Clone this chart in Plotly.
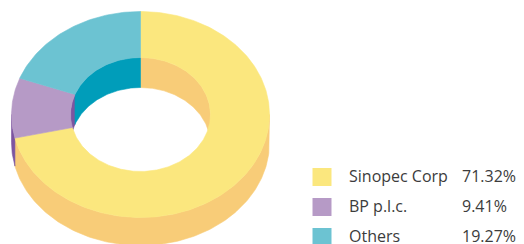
import numpy as np
import plotly.graph_objects as go

# ---- data ----
labels = ["Sinopec Corp", "BP p.l.c.", "Others"]
shares = [71.32, 9.41, 19.27]
pct_text = ["71.32%", "9.41%", "19.27%"]

# ---- styling ----
top_colors = ["#FBE77E", "#B69AC6", "#6CC3D2"]
side_colors = ["#F8CC78", "#7C55A0", "#009DBA"]
W, H = 524, 244
CX, CY = 140.5, 114.5
RX_O, RY_O = 129, 103
RX_I, RY_I = 70, 57
DEPTH = 28


def arc(a, b, rx, ry, dy, n=None):
    if n is None:
        n = max(2, int(abs(b - a) / 1.0) + 2)
    t = np.radians(np.linspace(a, b, n))
    return CX + rx * np.cos(t), CY - ry * np.sin(t) + dy


def intersect(a, b, lo, hi):
    out = []
    for k in (-720, -360, 0, 360, 720):
        s, e = max(a + k, lo), min(b + k, hi)
        if e > s:
            out.append((s, e))
    return out


ranges = []
start = 90.0
for v in shares:
    sweep = v / sum(shares) * 360.0
    ranges.append((start - sweep, start))
    start -= sweep

fig = go.Figure()


def poly(xs, ys, color):
    fig.add_trace(go.Scatter(x=xs, y=ys, mode="lines", fill="toself",
                             fillcolor=color, line=dict(color=color, width=0.6),
                             hoverinfo="skip", showlegend=False))


# outer side walls (front half)
for (a, b), c in zip(ranges, side_colors):
    for s, e in intersect(a, b, -180, 0):
        x1, y1 = arc(s, e, RX_O, RY_O, 0)
        x2, y2 = arc(e, s, RX_O, RY_O, DEPTH)
        poly(np.concatenate([x1, x2, x1[:1]]), np.concatenate([y1, y2, y1[:1]]), c)

# inner walls (back half)
for (a, b), c in zip(ranges, side_colors):
    for s, e in intersect(a, b, 0, 180):
        x1, y1 = arc(s, e, RX_I, RY_I, 0)
        x2, y2 = arc(e, s, RX_I, RY_I, DEPTH + 2)
        poly(np.concatenate([x1, x2, x1[:1]]), np.concatenate([y1, y2, y1[:1]]), c)

# top faces
for (a, b), c in zip(ranges, top_colors):
    x1, y1 = arc(a, b, RX_O, RY_O, 0)
    x2, y2 = arc(b, a, RX_I, RY_I, 0)
    poly(np.concatenate([x1, x2, x1[:1]]), np.concatenate([y1, y2, y1[:1]]), c)

# legend
font = dict(family="Open Sans", size=16, color="#3C3C3C")
for i, (lab, pt, c) in enumerate(zip(labels, pct_text, top_colors)):
    yc = 177 + 30 * i
    fig.add_shape(type="rect", x0=312.5, x1=331.5, y0=yc - 9, y1=yc + 9,
                  fillcolor=c, line=dict(width=0), layer="above")
    fig.add_annotation(x=347, y=yc - 1.5, text=lab, showarrow=False, xanchor="left",
                       yanchor="middle", font=font)
    fig.add_annotation(x=460, y=yc - 1.5, text=pt, showarrow=False, xanchor="left",
                       yanchor="middle", font=font)

fig.update_layout(
    width=W, height=H, margin=dict(l=0, r=0, t=0, b=0),
    paper_bgcolor="white", plot_bgcolor="white",
    xaxis=dict(range=[0, W], visible=False, fixedrange=True),
    yaxis=dict(range=[H, 0], visible=False, fixedrange=True),
    showlegend=False,
)
fig.write_html("out.html", config={"displayModeBar": False},
               post_script="document.body.style.margin='0';document.body.style.overflow='hidden';")
